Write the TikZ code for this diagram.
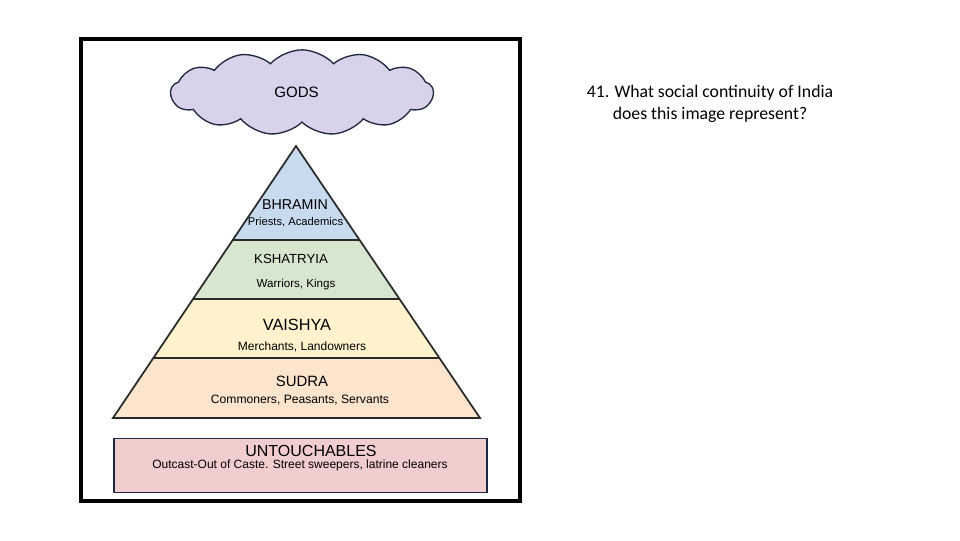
\documentclass[tikz,border=0pt]{standalone}
\usepackage{fontspec}
\setmainfont{Liberation Sans}
\newfontfamily\calib{Carlito}
\usetikzlibrary{shapes.symbols,calc}
\definecolor{cloudfill}{HTML}{D8D3EA}
\definecolor{bhfill}{HTML}{C8DAEE}
\definecolor{ksfill}{HTML}{D6E6CF}
\definecolor{vafill}{HTML}{FFF2CC}
\definecolor{sufill}{HTML}{FCE4CD}
\definecolor{unfill}{HTML}{F2CDCD}
\definecolor{navy}{HTML}{1E2840}
\definecolor{edge}{HTML}{2A2A2A}
\tikzset{
  lbl/.style={inner sep=0pt, text=black},
  edgeline/.style={draw=edge, line width=1.3pt, line join=miter},
}
\newcommand{\fs}[1]{\fontsize{#1}{#1}\selectfont}
\begin{document}
\begin{tikzpicture}[x=0.75pt,y=-0.75pt]
\useasboundingbox (0,0) rectangle (960,540);
\fill[white] (0,0) rectangle (960,540);
% frame
\draw[black, line width=2.6pt] (81,39) rectangle (520,501);
% cloud
\node[cloud, cloud puffs=13, cloud puff arc=95, cloud ignores aspect,
      minimum width=197pt, minimum height=64pt, draw=navy, line width=1pt,
      fill=cloudfill, inner sep=0pt] (cloud) at (302,92.5) {};
\node[lbl, font=\fs{11.3pt}] (gods) at (296.5,92) {GODS};
% pyramid
\coordinate (apex) at (296,146);
\coordinate (bl) at (113,418);
\coordinate (br) at (480,418);
\coordinate (l1) at ($(apex)!0.3456!(bl)$);
\coordinate (r1) at ($(apex)!0.3456!(br)$);
\coordinate (l2) at ($(apex)!0.5625!(bl)$);
\coordinate (r2) at ($(apex)!0.5625!(br)$);
\coordinate (l3) at ($(apex)!0.7794!(bl)$);
\coordinate (r3) at ($(apex)!0.7794!(br)$);
\fill[bhfill] (apex) -- (l1) -- (r1) -- cycle;
\fill[ksfill] (l1) -- (l2) -- (r2) -- (r1) -- cycle;
\fill[vafill] (l2) -- (l3) -- (r3) -- (r2) -- cycle;
\fill[sufill] (l3) -- (bl) -- (br) -- (r3) -- cycle;
\draw[edgeline] (apex) -- (bl) -- (br) -- cycle;
\draw[edgeline] (l1) -- (r1);
\draw[edgeline] (l2) -- (r2);
\draw[edgeline] (l3) -- (r3);
% labels
\node[lbl, font=\fs{10.7pt}] (bhr) at (295,205) {BHRAMIN};
\node[lbl, font=\fs{8.4pt}] (bhrsub) at (295.5,222) {Priests, Academics};
\node[lbl, font=\fs{9.9pt}] (ksh) at (291,259) {KSHATRYIA};
\node[lbl, font=\fs{8.7pt}] (kshsub) at (296,284) {Warriors, Kings};
\node[lbl, font=\fs{12.2pt}] (vai) at (297,325) {VAISHYA};
\node[lbl, font=\fs{9pt}] (vaisub) at (302,347) {Merchants, Landowners};
\node[lbl, font=\fs{11.2pt}] (sud) at (302,381) {SUDRA};
\node[lbl, font=\fs{9.1pt}] (sudsub) at (300,400) {Commoners, Peasants, Servants};
% untouchables
\node[draw=navy, line width=1.4pt, fill=unfill, minimum width=280pt, minimum height=40.5pt,
      inner sep=0pt] (unt) at (300.5,465.5) {};
\node[lbl, font=\fs{12pt}] (untt) at (311,451) {UNTOUCHABLES};
\node[lbl, font=\fs{9pt}] (untsub) at (300,465.5) {Outcast-Out of Caste. Street sweepers, latrine cleaners};
% question
\node[lbl, align=center, font=\calib\fontsize{13.3pt}{16.5pt}\selectfont] (q) at (710,104)
  {41. What social continuity of India\\does this image represent?};
\end{tikzpicture}
\end{document}
